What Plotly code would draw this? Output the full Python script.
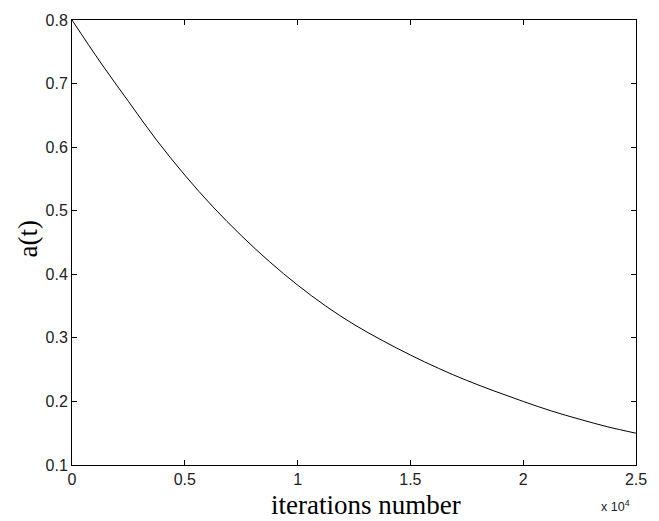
import plotly.graph_objects as go

iterations = [0, 1250, 2500, 3750, 5000, 6250, 7500, 8750, 10000, 11250, 12500,
              13750, 15000, 16250, 17500, 18750, 20000, 21250, 22500, 23750, 25000]
a_t = [0.800, 0.734, 0.672, 0.611, 0.556, 0.506, 0.461, 0.420, 0.383, 0.350, 0.321,
       0.296, 0.273, 0.252, 0.233, 0.216, 0.200, 0.185, 0.172, 0.160, 0.150]

x_tickvals = [0, 5000, 10000, 15000, 20000, 25000]
x_ticktext = ["0", "0.5", "1", "1.5", "2", "2.5"]
y_tickvals = [0.1, 0.2, 0.3, 0.4, 0.5, 0.6, 0.7, 0.8]
y_ticktext = ["0.1", "0.2", "0.3", "0.4", "0.5", "0.6", "0.7", "0.8"]

fig = go.Figure()
fig.add_trace(go.Scatter(x=iterations, y=a_t, mode="lines",
                         line=dict(color="black", width=1, shape="spline", smoothing=1.0),
                         showlegend=False, hoverinfo="skip"))

tickfont = dict(family="Liberation Sans, Arial, sans-serif", size=16, color="#222")
axis_common = dict(showline=True, linecolor="black", linewidth=1, mirror="ticks",
                   ticks="inside", ticklen=5, tickcolor="black", tickwidth=1,
                   showgrid=False, zeroline=False, tickfont=tickfont)

fig.update_xaxes(range=[0, 25000], tickvals=x_tickvals, ticktext=x_ticktext, **axis_common)
fig.update_yaxes(range=[0.1, 0.8], tickvals=y_tickvals, ticktext=y_ticktext, **axis_common)

serif = dict(family="Liberation Serif, Times New Roman, serif", size=27, color="black")
fig.add_annotation(text="iterations number", xref="paper", yref="paper",
                   x=0.521, y=-0.09, xanchor="center", yanchor="middle",
                   showarrow=False, font=serif)
fig.add_annotation(text="a(t)", xref="paper", yref="paper",
                   x=-0.078, y=0.507, xanchor="center", yanchor="middle",
                   textangle=-90, showarrow=False, font=serif)
fig.add_annotation(text="x 10<sup>4</sup>", xref="paper", yref="paper",
                   x=0.993, y=-0.092, xanchor="right", yanchor="middle",
                   showarrow=False,
                   font=dict(family="Liberation Sans, Arial, sans-serif", size=12.5, color="#222"))

fig.update_layout(width=659, height=521, margin=dict(l=72, r=20, t=19, b=56),
                  paper_bgcolor="white", plot_bgcolor="white")

fig.write_html("out.html")
